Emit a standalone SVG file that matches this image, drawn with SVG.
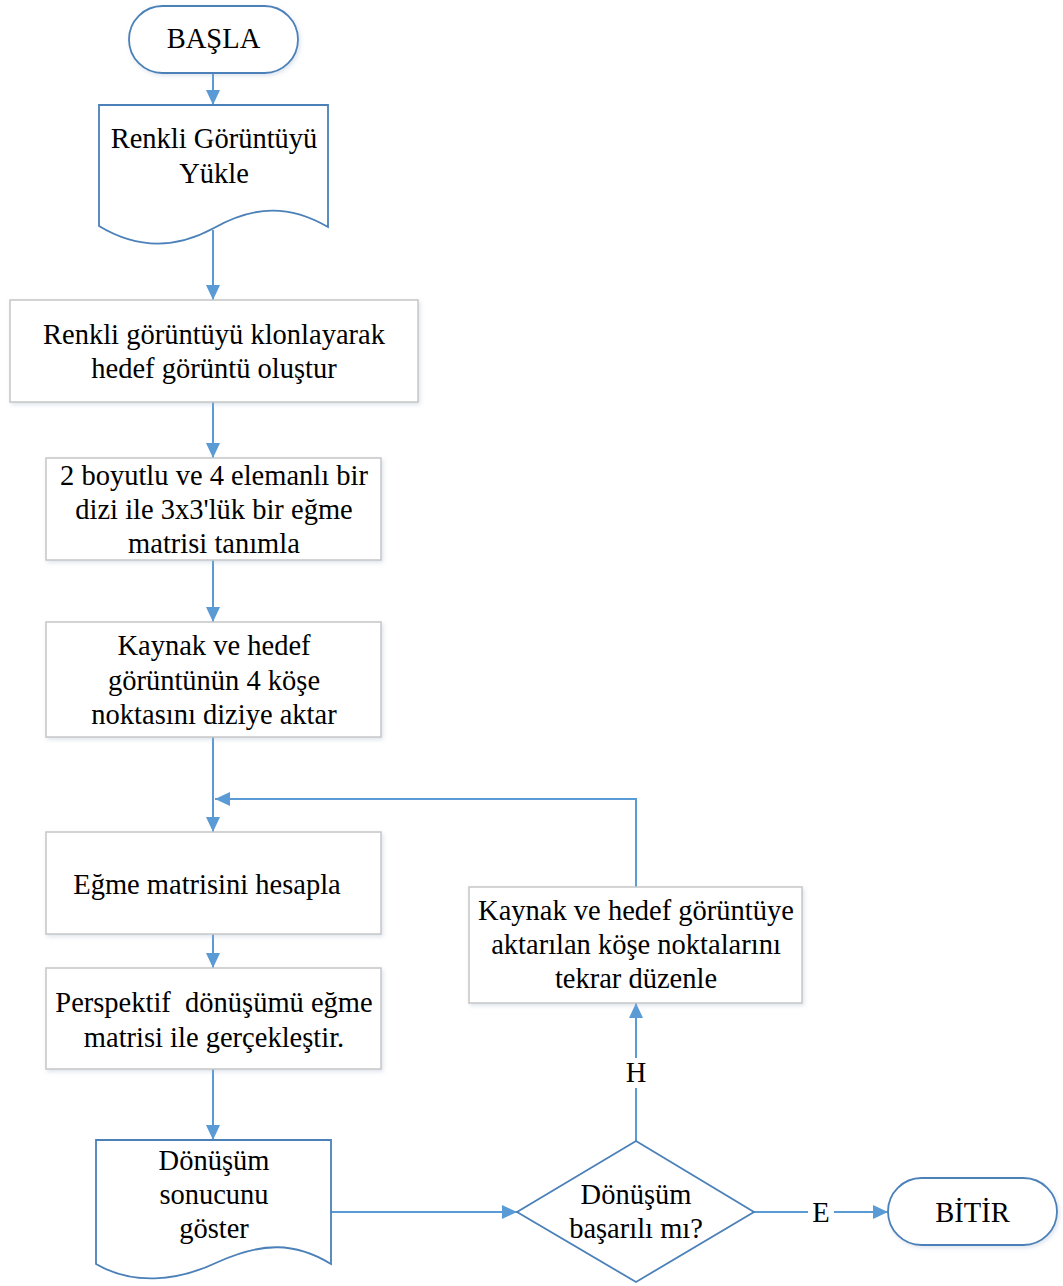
<svg xmlns="http://www.w3.org/2000/svg" width="1063" height="1286" viewBox="0 0 1063 1286">
<defs>
<style>
.t{font-family:"Liberation Serif","Times New Roman",serif;font-size:28.5px;fill:#000;text-anchor:middle;white-space:pre}
.box{fill:#fff;stroke:#c6c6c6;stroke-width:1.5}
.blue{fill:#fff;stroke:#4b80b9;stroke-width:1.8}
.c{fill:none;stroke:#5b9bd5;stroke-width:2}
</style>
<marker id="ah" markerUnits="userSpaceOnUse" markerWidth="15" markerHeight="14" viewBox="0 0 15 14" refX="15" refY="7" orient="auto">
<path d="M0,0 L15,7 L0,14 Z" fill="#5b9bd5"/>
</marker>
<filter id="sh" x="-5%" y="-5%" width="115%" height="120%">
<feDropShadow dx="1.5" dy="2" stdDeviation="2" flood-color="#9fb4cc" flood-opacity="0.35"/>
</filter>
</defs>
<g id="connectors">
<line class="c" x1="213" y1="73" x2="213" y2="105" marker-end="url(#ah)"/>
<line class="c" x1="213" y1="230" x2="213" y2="300" marker-end="url(#ah)"/>
<line class="c" x1="213" y1="402" x2="213" y2="458" marker-end="url(#ah)"/>
<line class="c" x1="213" y1="560" x2="213" y2="622" marker-end="url(#ah)"/>
<line class="c" x1="213" y1="737" x2="213" y2="832" marker-end="url(#ah)"/>
<polyline class="c" points="636,887 636,799 215,799" marker-end="url(#ah)"/>
<line class="c" x1="213" y1="934" x2="213" y2="968" marker-end="url(#ah)"/>
<line class="c" x1="213" y1="1069" x2="213" y2="1140" marker-end="url(#ah)"/>
<line class="c" x1="331" y1="1212" x2="517" y2="1212" marker-end="url(#ah)"/>
<line class="c" x1="636" y1="1141" x2="636" y2="1003" marker-end="url(#ah)"/>
<line class="c" x1="754" y1="1212" x2="888" y2="1212" marker-end="url(#ah)"/>
<rect x="624" y="1058" width="24" height="30" fill="#fff"/>
<text class="t" x="636" y="1082">H</text>
<rect x="808" y="1198" width="26" height="28" fill="#fff"/>
<text class="t" x="821" y="1222">E</text>
</g>
<g id="basla">
<rect class="blue" x="129" y="6" width="169" height="67" rx="33.5" filter="url(#sh)"/>
<text class="t" x="213.5" y="48">BAŞLA</text>
</g>
<g id="yukle">
<path class="blue" d="M99,105 H328 V227 C290,205 255,205 214,228 C170,252 132,246 99,226 Z"/>
<text class="t" x="214" y="148">Renkli Görüntüyü</text>
<text class="t" x="214" y="183">Yükle</text>
</g>
<g id="klonla">
<rect class="box" x="10" y="300" width="408" height="102" filter="url(#sh)"/>
<text class="t" x="214" y="344">Renkli görüntüyü klonlayarak</text>
<text class="t" x="214" y="378">hedef görüntü oluştur</text>
</g>
<g id="matris-tanimla">
<rect class="box" x="46" y="458" width="335" height="102" filter="url(#sh)"/>
<text class="t" x="214" y="485">2 boyutlu ve 4 elemanlı bir</text>
<text class="t" x="214" y="519">dizi ile 3x3'lük bir eğme</text>
<text class="t" x="214" y="553">matrisi tanımla</text>
</g>
<g id="kose-aktar">
<rect class="box" x="46" y="622" width="335" height="115" filter="url(#sh)"/>
<text class="t" x="214" y="655">Kaynak ve hedef</text>
<text class="t" x="214" y="690">görüntünün 4 köşe</text>
<text class="t" x="214" y="724">noktasını diziye aktar</text>
</g>
<g id="hesapla">
<rect class="box" x="46" y="832" width="335" height="102" filter="url(#sh)"/>
<text class="t" x="207" y="894">Eğme matrisini hesapla</text>
</g>
<g id="perspektif">
<rect class="box" x="46" y="968" width="335" height="101" filter="url(#sh)"/>
<text class="t" x="214" y="1012">Perspektif  dönüşümü eğme</text>
<text class="t" x="214" y="1047">matrisi ile gerçekleştir.</text>
</g>
<g id="goster">
<path class="blue" d="M96,1140 H331 V1264 C295,1242 262,1242 218,1262 C176,1282 132,1285 96,1264 Z"/>
<text class="t" x="214" y="1170">Dönüşüm</text>
<text class="t" x="214" y="1204">sonucunu</text>
<text class="t" x="214" y="1238">göster</text>
</g>
<g id="karar">
<polygon class="blue" points="636,1141 754,1212 636,1282 517,1212"/>
<text class="t" x="636" y="1204">Dönüşüm</text>
<text class="t" x="636" y="1238">başarılı mı?</text>
</g>
<g id="duzenle">
<rect class="box" x="469" y="887" width="333" height="116" filter="url(#sh)"/>
<text class="t" x="636" y="920">Kaynak ve hedef görüntüye</text>
<text class="t" x="636" y="954">aktarılan köşe noktalarını</text>
<text class="t" x="636" y="988">tekrar düzenle</text>
</g>
<g id="bitir">
<rect class="blue" x="888" y="1178" width="169" height="67" rx="33.5" filter="url(#sh)"/>
<text class="t" x="972.5" y="1222">BİTİR</text>
</g>
</svg>
